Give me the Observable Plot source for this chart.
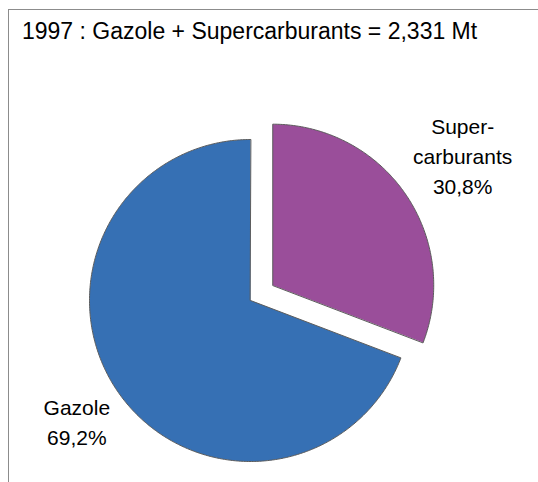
<!DOCTYPE html>
<html><head><meta charset="utf-8">
<script src="https://cdn.jsdelivr.net/npm/d3@7"></script>
<script src="https://cdn.jsdelivr.net/npm/@observablehq/plot@0.6"></script>
<style>
body{margin:0;background:#fff;}
#wrap{position:relative;width:538px;height:482px;overflow:hidden;font-family:"Liberation Sans",Arial,sans-serif;background:#fff;}
#frame{position:absolute;left:8px;top:9px;width:700px;height:700px;border-top:1px solid #8c8c8c;border-left:1px solid #8c8c8c;}
#title{position:absolute;left:22px;top:20px;font-size:23px;line-height:23px;color:#000;white-space:nowrap;}
#chart{position:absolute;left:0;top:0;}
</style></head>
<body>
<div id="wrap"><div id="frame"></div><div id="chart"></div><div id="title"></div></div>
<script>
const title = "1997 : Gazole + Supercarburants = 2,331 Mt";
const categories = ["Supercarburants", "Gazole"];
const labels = ["Super-\ncarburants\n30,8%", "Gazole\n69,2%"];
const shares = [30.8, 69.2];
const colors = ["#9A4E9A", "#3670B4"];
const exploded = [true, false];

document.getElementById("title").textContent = title;

// layout (pixels)
const W = 538, H = 482, R = 161, CX = 250, CY = 300, EXPLODE = 27;
const labelDist = [1.6, 1.31];

const arcs = d3.pie().sort(null).value(d => d)(shares);
const points = [];
const labelData = [];
arcs.forEach((a, i) => {
  const mid = (a.startAngle + a.endAngle) / 2;
  const off = exploded[i] ? EXPLODE / R : 0;
  const ox = off * Math.sin(mid), oy = off * Math.cos(mid);
  points.push({cat: categories[i], x: ox, y: oy});
  const n = Math.max(2, Math.ceil((a.endAngle - a.startAngle) / 0.01));
  for (let k = 0; k <= n; k++) {
    const t = a.startAngle + (a.endAngle - a.startAngle) * k / n;
    points.push({cat: categories[i], x: ox + Math.sin(t), y: oy + Math.cos(t)});
  }
  labelData.push({cat: categories[i], text: labels[i],
    x: labelDist[i] * Math.sin(mid), y: labelDist[i] * Math.cos(mid)});
});

const chart = Plot.plot({
  width: W, height: H,
  marginLeft: 0, marginRight: 0, marginTop: 0, marginBottom: 0,
  x: {domain: [-CX / R, (W - CX) / R], axis: null},
  y: {domain: [-(H - CY) / R, CY / R], axis: null},
  color: {domain: categories, range: colors},
  style: {fontFamily: "'Liberation Sans', Arial, sans-serif", background: "transparent"},
  marks: [
    Plot.line(points, {x: "x", y: "y", z: "cat", fill: "cat", stroke: "#5c5c5c", strokeWidth: 1, curve: "linear-closed"}),
    Plot.text(labelData, {x: "x", y: "y", text: "text", fontSize: 21, lineHeight: 1.43, fill: "#000"})
  ]
});
document.getElementById("chart").appendChild(chart);
</script>
</body></html>
